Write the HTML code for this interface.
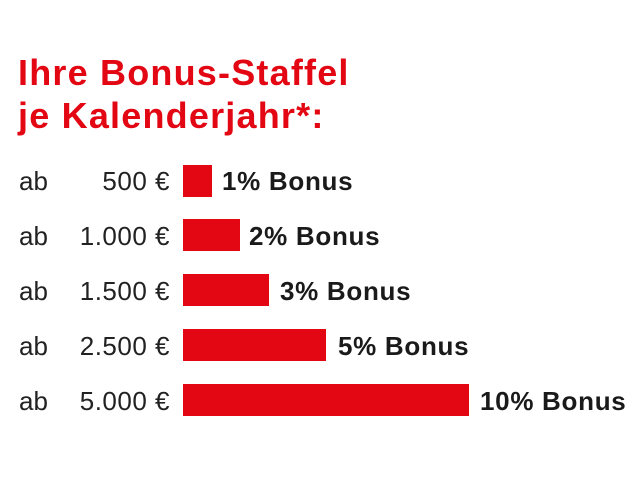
<!DOCTYPE html>
<html><head><meta charset="utf-8"><style>
body{margin:0;width:640px;height:480px;background:#fff;position:relative;overflow:hidden;font-family:"Liberation Sans",sans-serif}
.t{position:absolute;left:18px;color:#e30613;font-weight:bold;font-size:36px;letter-spacing:1.2px;line-height:1}
.ab{position:absolute;left:19px;font-size:26px;color:#222;line-height:1}
.n{position:absolute;right:470px;font-size:26px;color:#222;line-height:1;letter-spacing:0.5px}
.bar{position:absolute;left:183px;height:32px;background:#e30613}
.b{position:absolute;font-size:26px;font-weight:bold;color:#1a1a1a;line-height:1;letter-spacing:0.7px}
</style></head><body>
<div class="t" style="top:55px">Ihre Bonus-Staffel</div>
<div class="t" style="top:98px">je Kalenderjahr*:</div>

<div class="ab" style="top:168px">ab</div><div class="n" style="top:168px">500 €</div>
<div class="bar" style="top:165px;width:29px"></div><div class="b" style="left:222px;top:168px">1% Bonus</div>

<div class="ab" style="top:223px">ab</div><div class="n" style="top:223px">1.000 €</div>
<div class="bar" style="top:219px;width:57px"></div><div class="b" style="left:249px;top:223px">2% Bonus</div>

<div class="ab" style="top:278px">ab</div><div class="n" style="top:278px">1.500 €</div>
<div class="bar" style="top:274px;width:86px"></div><div class="b" style="left:280px;top:278px">3% Bonus</div>

<div class="ab" style="top:333px">ab</div><div class="n" style="top:333px">2.500 €</div>
<div class="bar" style="top:329px;width:143px"></div><div class="b" style="left:338px;top:333px">5% Bonus</div>

<div class="ab" style="top:388px">ab</div><div class="n" style="top:388px">5.000 €</div>
<div class="bar" style="top:384px;width:286px"></div><div class="b" style="left:480px;top:388px">10% Bonus</div>
</body></html>
